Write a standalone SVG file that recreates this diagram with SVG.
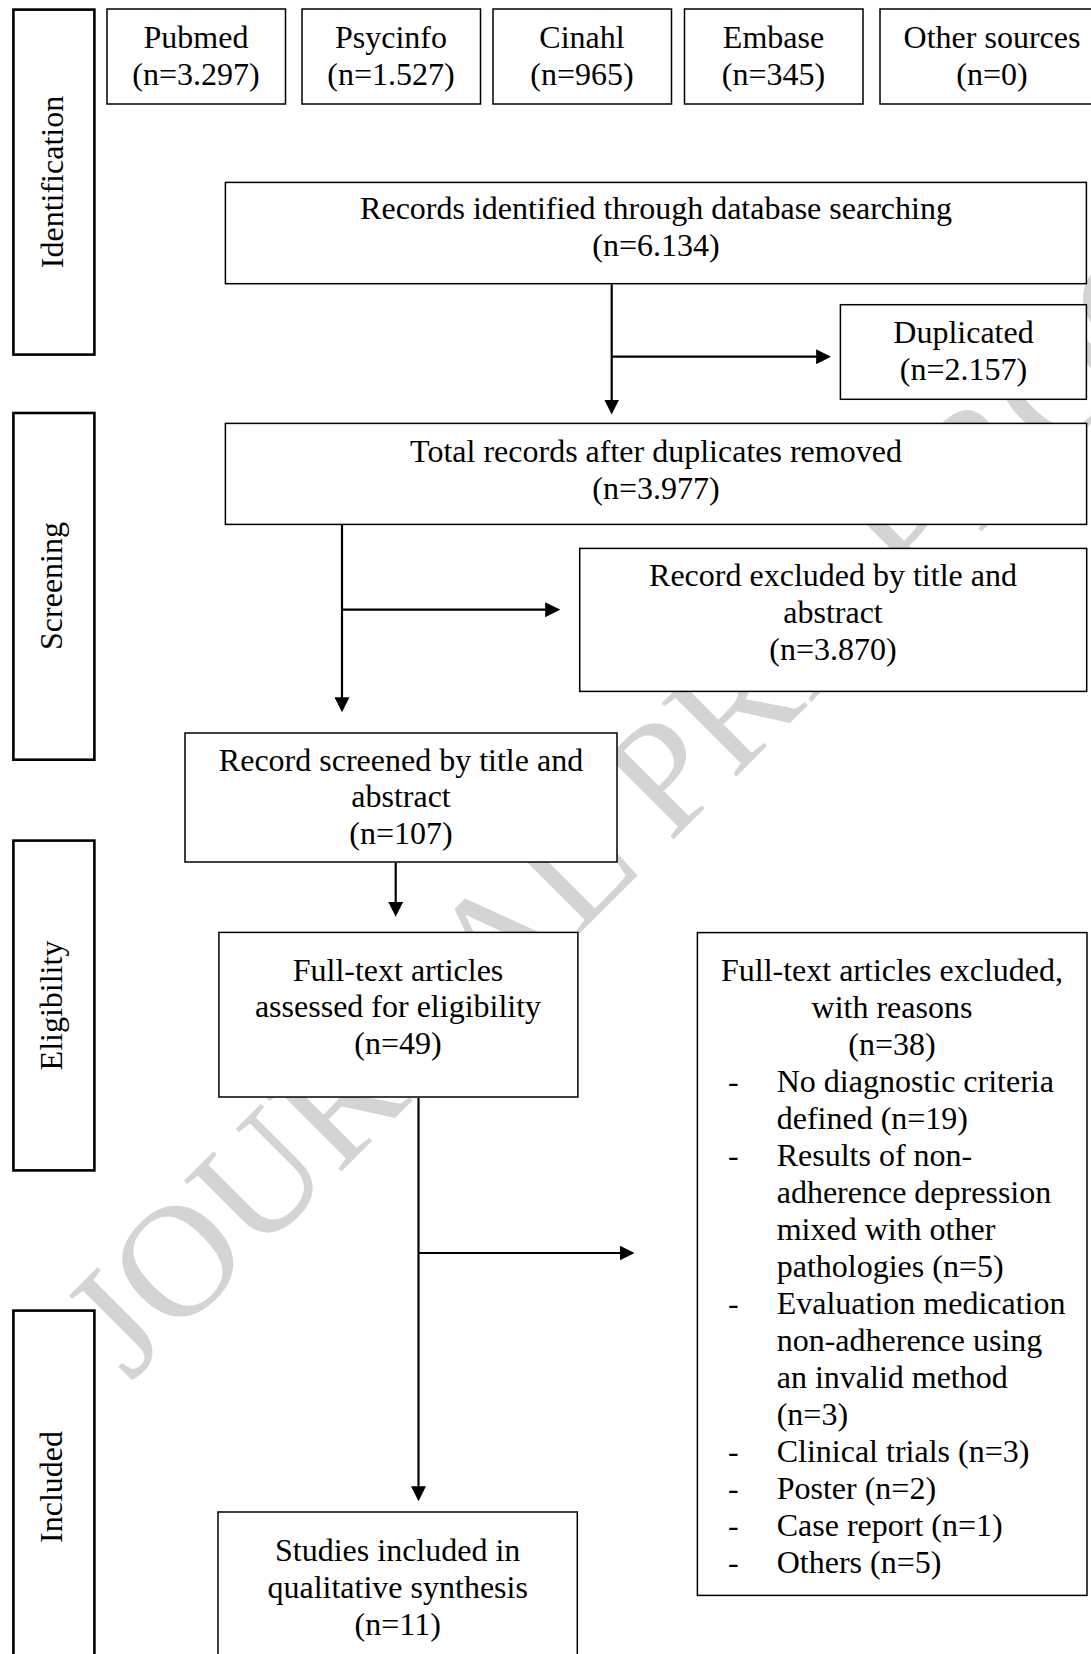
<svg xmlns="http://www.w3.org/2000/svg" width="1091" height="1654" viewBox="0 0 1091 1654">
<style>
.box{fill:#fff;stroke:#000;stroke-width:1.5}
.side{fill:#fff;stroke:#000;stroke-width:2.6}
.t{font-family:"Liberation Serif","Times New Roman",serif;font-size:32px;fill:#000;text-anchor:middle}
.l{font-family:"Liberation Serif","Times New Roman",serif;font-size:32px;fill:#000}
.c{fill:none;stroke:#000;stroke-width:2.2}
.wm{font-family:"Liberation Serif","Times New Roman",serif;font-size:160px;fill:#d4d4d4}
</style>
<defs>
<marker id="ah" viewBox="0 0 15 15" refX="0.5" refY="7.5" markerWidth="15" markerHeight="15" markerUnits="userSpaceOnUse" orient="auto">
<path d="M0,0 L15,7.5 L0,15 z" fill="#000"/>
</marker>
</defs>
<rect width="1091" height="1654" fill="#fff"/>

<g id="watermark">
<text class="wm" transform="translate(130,1383) rotate(-45)">JOURNAL PRE-PROOF</text>
</g>

<g id="stage-identification">
<rect class="side" x="13.4" y="9.6" width="81" height="345"/>
<text class="t" transform="translate(63,182) rotate(-90)">Identification</text>
</g>
<g id="stage-screening">
<rect class="side" x="13.4" y="413" width="81" height="346.7"/>
<text class="t" transform="translate(62,586) rotate(-90)">Screening</text>
</g>
<g id="stage-eligibility">
<rect class="side" x="13.4" y="840.6" width="81" height="329.8"/>
<text class="t" transform="translate(62,1005.5) rotate(-90)">Eligibility</text>
</g>
<g id="stage-included">
<rect class="side" x="13.4" y="1310.6" width="81" height="400"/>
<text class="t" transform="translate(62,1487) rotate(-90)">Included</text>
</g>

<g id="pubmed">
<rect class="box" x="107" y="9" width="178.5" height="95"/>
<text class="t" x="196" y="48">Pubmed</text>
<text class="t" x="196" y="84.5">(n=3.297)</text>
</g>
<g id="psycinfo">
<rect class="box" x="302" y="9" width="178.5" height="95"/>
<text class="t" x="391" y="48">Psycinfo</text>
<text class="t" x="391" y="84.5">(n=1.527)</text>
</g>
<g id="cinahl">
<rect class="box" x="493" y="9" width="178.5" height="95"/>
<text class="t" x="582" y="48">Cinahl</text>
<text class="t" x="582" y="84.5">(n=965)</text>
</g>
<g id="embase">
<rect class="box" x="684.5" y="9" width="178.5" height="95"/>
<text class="t" x="773.5" y="48">Embase</text>
<text class="t" x="773.5" y="84.5">(n=345)</text>
</g>
<g id="other-sources">
<rect class="box" x="880" y="9" width="226" height="95"/>
<text class="t" x="992" y="48">Other sources</text>
<text class="t" x="992" y="84.5">(n=0)</text>
</g>

<g id="records-identified">
<rect class="box" x="225.4" y="182.4" width="861" height="101.3"/>
<text class="t" x="656" y="219">Records identified through database searching</text>
<text class="t" x="656" y="256">(n=6.134)</text>
</g>
<g id="duplicated">
<rect class="box" x="840.4" y="304.7" width="246" height="94.6"/>
<text class="t" x="963.5" y="343">Duplicated</text>
<text class="t" x="963.5" y="380">(n=2.157)</text>
</g>
<g id="total-records">
<rect class="box" x="225.4" y="423.4" width="861.2" height="101"/>
<text class="t" x="656" y="462">Total records after duplicates removed</text>
<text class="t" x="656" y="499">(n=3.977)</text>
</g>
<g id="excluded-title-abstract">
<rect class="box" x="579.7" y="548.4" width="507" height="143"/>
<text class="t" x="833" y="585.5">Record excluded by title and</text>
<text class="t" x="833" y="622.5">abstract</text>
<text class="t" x="833" y="660">(n=3.870)</text>
</g>
<g id="screened-title-abstract">
<rect class="box" x="185" y="733" width="432" height="129"/>
<text class="t" x="401" y="770.5">Record screened by title and</text>
<text class="t" x="401" y="807">abstract</text>
<text class="t" x="401" y="843.5">(n=107)</text>
</g>
<g id="fulltext-assessed">
<rect class="box" x="218.9" y="932.4" width="359" height="164.6"/>
<text class="t" x="398" y="981">Full-text articles</text>
<text class="t" x="398" y="1017">assessed for eligibility</text>
<text class="t" x="398" y="1053.5">(n=49)</text>
</g>
<g id="fulltext-excluded">
<rect class="box" x="697.4" y="932.6" width="389.6" height="662.8"/>
<text class="t" x="892" y="981">Full-text articles excluded,</text>
<text class="t" x="892" y="1018">with reasons</text>
<text class="t" x="892" y="1055">(n=38)</text>
<text class="l" x="728" y="1092">-</text>
<text class="l" x="776.7" y="1092">No diagnostic criteria</text>
<text class="l" x="776.7" y="1129">defined (n=19)</text>
<text class="l" x="728" y="1166">-</text>
<text class="l" x="776.7" y="1166">Results of non-</text>
<text class="l" x="776.7" y="1203">adherence depression</text>
<text class="l" x="776.7" y="1240">mixed with other</text>
<text class="l" x="776.7" y="1277">pathologies (n=5)</text>
<text class="l" x="728" y="1314">-</text>
<text class="l" x="776.7" y="1314">Evaluation medication</text>
<text class="l" x="776.7" y="1351">non-adherence using</text>
<text class="l" x="776.7" y="1388">an invalid method</text>
<text class="l" x="776.7" y="1425">(n=3)</text>
<text class="l" x="728" y="1462">-</text>
<text class="l" x="776.7" y="1462">Clinical trials (n=3)</text>
<text class="l" x="728" y="1499">-</text>
<text class="l" x="776.7" y="1499">Poster (n=2)</text>
<text class="l" x="728" y="1536">-</text>
<text class="l" x="776.7" y="1536">Case report (n=1)</text>
<text class="l" x="728" y="1573">-</text>
<text class="l" x="776.7" y="1573">Others (n=5)</text>
</g>
<g id="studies-included">
<rect class="box" x="218" y="1512" width="359.3" height="170"/>
<text class="t" x="397.7" y="1561">Studies included in</text>
<text class="t" x="397.7" y="1598">qualitative synthesis</text>
<text class="t" x="397.7" y="1635">(n=11)</text>
</g>

<g id="connectors">
<line class="c" x1="611.7" y1="284.3" x2="611.7" y2="400" marker-end="url(#ah)"/>
<line class="c" x1="611.7" y1="356.7" x2="816.6" y2="356.7" marker-end="url(#ah)"/>
<line class="c" x1="342" y1="525" x2="342" y2="697.7" marker-end="url(#ah)"/>
<line class="c" x1="342" y1="609.7" x2="545.7" y2="609.7" marker-end="url(#ah)"/>
<line class="c" x1="395.7" y1="862.7" x2="395.7" y2="902.3" marker-end="url(#ah)"/>
<line class="c" x1="418.5" y1="1097.7" x2="418.5" y2="1486.8" marker-end="url(#ah)"/>
<line class="c" x1="418.5" y1="1253" x2="620" y2="1253" marker-end="url(#ah)"/>
</g>
</svg>
